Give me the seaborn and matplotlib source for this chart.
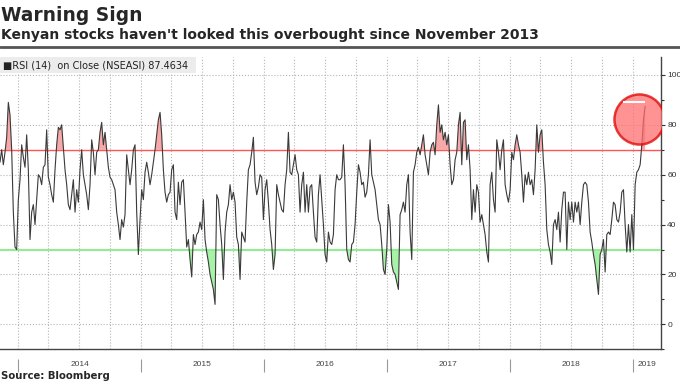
import numpy as np
import pandas as pd
import matplotlib.pyplot as plt
import matplotlib.dates as mdates
from matplotlib.lines import Line2D
from matplotlib.patches import Rectangle
import seaborn as sns

# RSI (14) on NSEASI close, roughly every 5 days
rsi_part1 = [65, 70, 64, 69, 75, 89, 84, 70, 45, 31,
             30, 50, 58, 72, 67, 63, 76, 62, 34, 45,
             48, 40, 50, 60, 59, 56, 63, 64, 78, 59,
             56, 52, 49, 62, 72, 79, 78, 80, 71, 62,
             56, 48, 46, 52, 58, 45, 54, 49, 62, 70,
             60, 56, 52, 46, 56, 74, 69, 60, 69, 70,
             77, 81, 72, 77, 70, 63, 59, 58, 56, 54,
             45, 40, 34, 42, 39, 44, 68, 62, 56, 62,
             70, 72, 45, 28, 42, 54, 50, 61, 65, 61,
             56, 60, 65, 70, 76, 82, 85, 76, 62, 53,
             49, 52]
rsi_part2 = [53, 62, 64, 45, 42, 57, 48, 57, 58, 45,
             31, 34, 26, 19, 36, 32, 36, 37, 41, 38,
             50, 34, 29, 25, 20, 17, 14, 8, 52, 50,
             40, 32, 18, 37, 45, 48, 56, 50, 53, 49,
             35, 32, 18, 37, 35, 33, 49, 62, 64, 69,
             75, 57, 52, 55, 60, 59, 42, 54, 58, 49,
             38, 32, 22, 28, 56, 52, 49, 46, 45, 56,
             62, 77, 61, 60, 64, 68, 62, 60, 45, 56,
             61, 45, 56, 45, 55, 56, 45, 35, 33, 52,
             60, 50, 40, 28, 25, 37, 33, 32, 36]
rsi_part3 = [54, 60, 58, 58, 59, 72, 56, 30, 26, 25,
             32, 33, 40, 53, 64, 61, 56, 57, 51, 53,
             60, 74, 60, 57, 54, 48, 42, 40, 32, 22,
             20, 30, 48, 41, 24, 21, 20, 17, 14, 44,
             46, 49, 45, 56, 60, 37, 26, 61, 64, 69,
             71, 68, 72, 76, 68, 64, 60, 69, 72, 73,
             68, 80, 88, 77, 80, 74, 77, 72, 76, 64,
             56, 58, 66, 69, 80, 85, 64, 81, 82, 66,
             72, 62, 42, 54, 45, 56, 53, 41, 44, 40,
             36, 29, 25, 56, 61, 50, 45, 74, 69]
rsi_part4 = [62, 70, 74, 56, 52, 49, 54, 69, 66, 72,
             76, 72, 69, 60, 49, 60, 56, 61, 56, 58,
             52, 62, 80, 69, 76, 78, 65, 56, 38, 32,
             29, 24, 40, 42, 38, 45, 33, 46, 53, 53,
             30, 49, 42, 49, 41, 49, 45, 49, 40, 49,
             56, 57, 56, 49, 37, 33, 28, 24, 18, 12,
             28, 30, 34, 21, 36, 37, 36, 42, 49, 48,
             42, 41, 45, 53, 54, 40, 29, 40, 29, 44,
             30, 56, 61, 62, 64, 72, 82, 87.4634]

rsi = np.array(rsi_part1 + rsi_part2 + rsi_part3 + rsi_part4, dtype=float)
dates = pd.date_range("2013-11-08", "2019-02-07", periods=len(rsi))
years = [2014, 2015, 2016, 2017, 2018, 2019]

overbought = 70
oversold = 30
prev_high = rsi[:10].max()   # Nov 2013 peak

sns.set_style("white")
plt.rcParams['font.family'] = ['DejaVu Sans']

fig = plt.figure(figsize=(6.8, 3.82), dpi=100)
ax = fig.add_axes([0, 0.0856, 0.972, 0.7652])

x_min = pd.Timestamp("2013-11-08")
x_max = pd.Timestamp("2019-03-26")

# fills beyond the 70 / 30 bands
ax.fill_between(dates, rsi, overbought, where=rsi > overbought, interpolate=True,
                color='#f7a8a8', lw=0, zorder=2)
ax.fill_between(dates, rsi, oversold, where=rsi < oversold, interpolate=True,
                color='#a6f2a6', lw=0, zorder=2)
ax.axhline(overbought, color='#ff5555', lw=1, zorder=3)
ax.axhline(oversold, color='#90ee90', lw=1.5, zorder=3)

sns.lineplot(x=dates, y=rsi, ax=ax, color='#3a3a3a', lw=0.8, zorder=4)

# highlight circle + previous-high marker
ax.scatter([pd.Timestamp("2019-01-20")], [82.3], s=1300, facecolor='#ff6f6f',
           edgecolor='#e00000', linewidth=1.8, alpha=0.75, zorder=5)
ax.hlines(prev_high, pd.Timestamp("2018-12-03"), dates[-1], color='white', lw=1.5, zorder=6)

ax.set_xlim(x_min, x_max)
ax.set_ylim(-9.7, 107.2)
ax.set_xlabel('')
ax.set_ylabel('')

# y axis on the right
ax.yaxis.tick_right()
ax.set_yticks(range(0, 101, 20))
ax.set_yticks(range(-10, 101, 10), minor=True)
ax.tick_params(axis='y', which='major', length=3, width=0.8, color='#333333',
               labelsize=6, labelcolor='#333333', pad=1.5, direction='out')
ax.tick_params(axis='y', which='minor', length=2, width=0.8, color='#333333')
for lab in ax.get_yticklabels():
    lab.set_family('Liberation Sans')

# x axis: quarterly grid, monthly ticks
ax.xaxis.set_major_locator(mdates.MonthLocator(bymonth=[1, 4, 7, 10]))
ax.xaxis.set_minor_locator(mdates.MonthLocator())
ax.tick_params(axis='x', which='both', length=3, width=0.7, color='#444444',
               labelbottom=False, direction='out')

ax.grid(True, which='major', axis='both', linestyle=':', color='#b5b5b5', lw=0.8)
ax.set_axisbelow(True)

for side in ['left', 'top']:
    ax.spines[side].set_visible(False)
for side in ['bottom', 'right']:
    ax.spines[side].set_color('#444444')
    ax.spines[side].set_linewidth(1)

# year band below the axis
sec = ax.secondary_xaxis(-0.034)
sec.spines['bottom'].set_visible(False)
year_starts = [mdates.date2num(pd.Timestamp(f"{y}-01-01")) for y in years]
x_end = mdates.date2num(x_max)
year_mids = []
for y in years:
    a = mdates.date2num(pd.Timestamp(f"{y}-01-01"))
    b = min(mdates.date2num(pd.Timestamp(f"{y + 1}-01-01")), x_end)
    year_mids.append((a + b) / 2)
sec.set_xticks(year_starts, labels=[''] * len(years))
sec.set_xticks(year_mids, labels=[str(y) for y in years], minor=True)
sec.tick_params(axis='x', which='major', length=9, width=0.8, color='#999999')
sec.tick_params(axis='x', which='minor', length=0, pad=1, labelsize=6,
                labelcolor='#444444')
for lab in sec.get_xticklabels(minor=True):
    lab.set_family('Liberation Sans')

# legend strip
ax.add_patch(Rectangle((0, 0.945), 0.2965, 0.055, transform=ax.transAxes,
                       facecolor='#ececec', edgecolor='none', zorder=7))
ax.text(0.004, 0.972, f"\u25a0RSI (14)  on Close (NSEASI) {rsi[-1]:.4f}",
        transform=ax.transAxes, va='center', ha='left', fontsize=7,
        color='#222222', zorder=8)

# titles and source
fig.text(0.001, 0.985, "Warning Sign", fontsize=13.4, fontweight='bold', va='top', ha='left')
fig.text(0.001, 0.927, "Kenyan stocks haven't looked this overbought since November 2013",
         fontsize=10, fontweight='bold', va='top', ha='left')
fig.add_artist(Line2D([0, 1], [1 - 47 / 382] * 2, lw=2, color='#555555'))
fig.text(0.002, 1 - 376 / 382, "Source: Bloomberg", fontsize=7.3, fontweight='bold',
         va='center', ha='left')

plt.savefig('out.png', dpi=100)
plt.close()
